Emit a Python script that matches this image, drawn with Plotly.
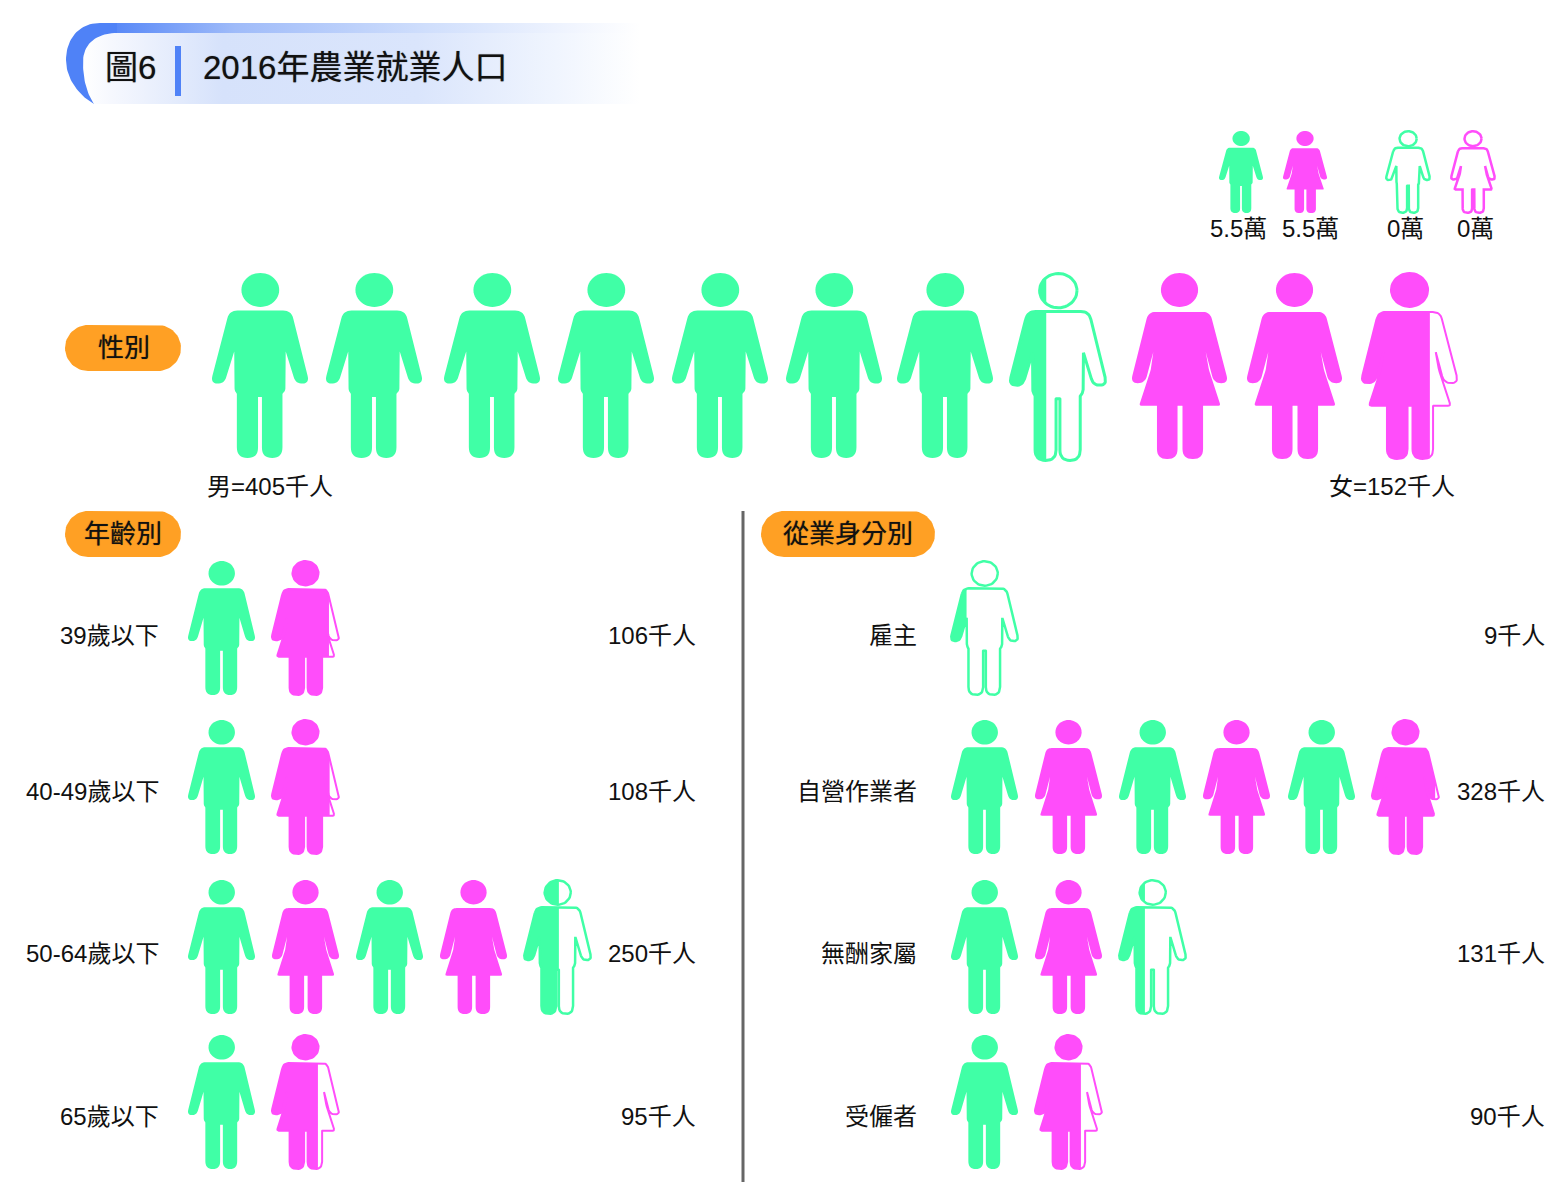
import math
import plotly.graph_objects as go

# ---------- data ----------
UNIT = 55  # thousand persons per icon (5.5萬)
title_no = "圖6"
title_text = "2016年農業就業人口"

sex_values = [405, 152]
sex_labels = ["男=405千人", "女=152千人"]
sex_last_fill = [0.38, 0.71]

age_labels = ["39歲以下", "40-49歲以下", "50-64歲以下", "65歲以下"]
age_values = [106, 108, 250, 95]
age_last_fill = [0.84, 0.85, 0.52, 0.68]

status_labels = ["雇主", "自營作業者", "無酬家屬", "受僱者"]
status_values = [9, 328, 131, 90]
status_last_fill = [0.24, 0.93, 0.39, 0.68]

legend_labels = ["5.5萬", "5.5萬", "0萬", "0萬"]
legend_kinds = ["m", "f", "m", "f"]
legend_fill = [1, 1, 0, 0]

# ---------- style / layout constants ----------
GREEN = "#40ffa6"
PINK = "#ff4dfa"
ORANGE = "#ffa024"
BLUE = "#4f82f7"
FONT = "Liberation Sans, Noto Sans CJK TC, sans-serif"

sex_male_lefts = [211, 325, 443, 557, 671, 785, 896, 1009]
sex_female_lefts = [1131, 1246, 1361]
SEX_TOP = 272
row_tops = [560, 719, 879, 1034]
row_text_y = [635, 791, 953, 1116]
age_lefts = [187, 271, 355, 439, 523]
status_lefts = [950, 1034, 1118, 1202, 1287, 1371]
legend_lefts = [1218, 1282, 1385, 1450]
legend_text_x = [1238, 1310, 1405, 1475]

# ---------- icon geometry (unit box) ----------
M_RAW = [(80,155,25),(270,155,25),(326,378,24),(284,380,22),(253,280,2),(252,400,8),(243,410,2),
         (243,607,33),(180,607,32),(180,420,1),(168,420,1),(168,607,32),(103,607,33),(103,410,2),
         (96,400,8),(95,280,2),(64,380,22),(22,378,24)]
F_RAW = [(442,155,22),(628,155,22),(684,369,24),(640,369,22),(615,275,2),(625,330,6),(660,437,8),
         (607,437,1),(607,597,30),(545,597,30),(545,437,1),(530,437,1),(530,597,30),(468,597,30),
         (468,437,1),(414,437,8),(449,330,6),(457,275,2),(432,369,22),(388,369,24)]


def rounded(raw, n=8):
    pts = []
    k = len(raw)
    for i in range(k):
        px, py, _ = raw[i - 1]
        x, y, r = raw[i]
        nx, ny, _ = raw[(i + 1) % k]
        d1 = math.hypot(px - x, py - y)
        d2 = math.hypot(nx - x, ny - y)
        r1 = min(r, d1 / 2)
        r2 = min(r, d2 / 2)
        a = (x + (px - x) * r1 / d1, y + (py - y) * r1 / d1)
        b = (x + (nx - x) * r2 / d2, y + (ny - y) * r2 / d2)
        for j in range(n + 1):
            t = j / n
            pts.append(((1-t)**2*a[0] + 2*t*(1-t)*x + t*t*b[0],
                        (1-t)**2*a[1] + 2*t*(1-t)*y + t*t*b[1]))
    pts.append(pts[0])
    return pts


def ellipse(cx, cy, rx, ry, n=48):
    return [(cx + rx*math.cos(2*math.pi*i/n), cy + ry*math.sin(2*math.pi*i/n)) for i in range(n + 1)]


def cubic(p0, p1, p2, p3, n=24):
    out = []
    for i in range(n + 1):
        t = i / n
        s = 1 - t
        out.append((s**3*p0[0] + 3*s*s*t*p1[0] + 3*s*t*t*p2[0] + t**3*p3[0],
                    s**3*p0[1] + 3*s*s*t*p1[1] + 3*s*t*t*p2[1] + t**3*p3[1]))
    return out


def build(raw, head):
    body = rounded(raw)
    hd = ellipse(*head)
    xs = [p[0] for p in body] + [p[0] for p in hd]
    ys = [p[1] for p in body] + [p[1] for p in hd]
    x0, x1, y0, y1 = min(xs), max(xs), min(ys), max(ys)
    f = lambda pts: [((x - x0) / (x1 - x0), (y - y0) / (y1 - y0)) for x, y in pts]
    return [f(body), f(hd)]


ICONS = {"m": build(M_RAW, (175, 92, 58, 52)), "f": build(F_RAW, (536, 89, 56, 51))}


def clip_right(poly, xc):
    out = []
    for i in range(len(poly) - 1):
        a, b = poly[i], poly[i + 1]
        ain, bin_ = a[0] <= xc, b[0] <= xc
        if ain:
            out.append(a)
        if ain != bin_:
            t = (xc - a[0]) / (b[0] - a[0])
            out.append((xc, a[1] + t * (b[1] - a[1])))
    if out:
        out.append(out[0])
    return out


marks = []


def icon(kind, left, top, w, h, fill, lw, trim=2):
    col = GREEN if kind == "m" else PINK
    if fill >= 1:
        l, t, ww, hh = left + 1, top + 1, w - 2, h - trim
        for sub in ICONS[kind]:
            marks.append(("fill", col, 0, [(l + u*ww, t + v*hh) for u, v in sub]))
        return
    l, t, ww, hh = left + lw/2, top + lw/2, w - lw, h - lw
    for sub in ICONS[kind]:
        pts = [(l + u*ww, t + v*hh) for u, v in sub]
        if fill > 0:
            c = clip_right(pts, left + fill * w)
            if c:
                marks.append(("fill", col, 0, c))
        marks.append(("line", col, lw, pts))


def n_icons(v):
    return math.ceil(v / UNIT)


# sex row
nm = n_icons(sex_values[0])
for i in range(nm):
    icon("m", sex_male_lefts[i], SEX_TOP, 98, 190, 1 if i < nm - 1 else sex_last_fill[0], 3, 5)
nf = n_icons(sex_values[1])
for i in range(nf):
    icon("f", sex_female_lefts[i], SEX_TOP, 97, 188, 1 if i < nf - 1 else sex_last_fill[1], 2, 2)


def row_icons(values, last, lefts):
    for r, v in enumerate(values):
        n = n_icons(v)
        for i in range(n):
            kind = "m" if i % 2 == 0 else "f"
            f = 1 if i < n - 1 else last[r]
            icon(kind, lefts[i], row_tops[r], 69, 136, f, 2.5 if kind == "m" else 2)


row_icons(age_values, age_last_fill, age_lefts)
row_icons(status_values, status_last_fill, status_lefts)

# legend icons
for k, l, f in zip(legend_kinds, legend_lefts, legend_fill):
    icon(k, l, 130, 46, 84, f, 2.5)

fig = go.Figure()


def blob(pts, **kw):
    fig.add_trace(go.Scatter(x=[p[0] for p in pts], y=[p[1] for p in pts], mode="lines", fill="toself",
                             line=dict(width=0), hoverinfo="skip", showlegend=False, **kw))


# ---------- title banner ----------
inner = cubic((94, 104), (86, 92), (83, 78), (83, 62)) + cubic((83, 62), (83, 45), (95, 33), (117, 33))
outer = cubic((100, 23), (78, 23), (66, 40), (66, 60)) + cubic((66, 60), (66, 78), (78, 95), (94, 104))
blob(inner + [(640, 33), (640, 104), (94, 104)],
     fillgradient=dict(type="horizontal", colorscale=[[0, "rgba(255,255,255,1)"], [0.05, "rgba(246,248,254,1)"],
                                                      [0.25, "rgba(214,226,251,1)"], [0.6, "rgba(218,229,252,1)"],
                                                      [0.85, "rgba(240,245,254,1)"], [1, "rgba(255,255,255,1)"]]))
blob([(100, 23), (640, 23), (640, 33), (100, 33), (100, 23)],
     fillgradient=dict(type="horizontal", colorscale=[[0, BLUE], [0.25, "#9fbbf9"], [0.6, "#cfdefc"], [0.85, "#eef3fe"],
                                                      [1, "#ffffff"]]))
blob(outer + inner + [(117, 23), (100, 23)], fillcolor=BLUE)


def pill(x0, x1, y0, y1):
    r = (y1 - y0) / 2
    e1 = ellipse(x0 + r, y0 + r, r, r, 64)
    e2 = ellipse(x1 - r, y0 + r, r, r, 64)
    pts = e1[16:49] + e2[48:65] + e2[0:17]
    pts.append(pts[0])
    blob(pts, fillcolor=ORANGE)


pill(65, 181, 325, 371)
pill(65, 181, 511, 557)
pill(761, 935, 511, 557)

# title separator and central divider
fig.add_trace(go.Scatter(x=[178, 178], y=[46, 96], mode="lines", line=dict(color=BLUE, width=6),
                         hoverinfo="skip", showlegend=False))
fig.add_trace(go.Scatter(x=[743, 743], y=[511, 1182], mode="lines", line=dict(color="#666666", width=3),
                         hoverinfo="skip", showlegend=False))

# ---------- icons ----------
for typ, col, lw, pts in marks:
    xs = [p[0] for p in pts]
    ys = [p[1] for p in pts]
    if typ == "fill":
        fig.add_trace(go.Scatter(x=xs, y=ys, mode="lines", fill="toself", fillcolor=col,
                                 line=dict(width=0, simplify=False), hoverinfo="skip", showlegend=False))
    else:
        fig.add_trace(go.Scatter(x=xs, y=ys, mode="lines", line=dict(color=col, width=lw),
                                 hoverinfo="skip", showlegend=False))


def txt(x, y, s, size=24, anchor="right", heavy=False):
    dx = {"right": 2, "left": -2, "center": 0}[anchor]
    f = dict(family=FONT, size=size, color="#111111")
    if heavy:
        f["shadow"] = "0 0 1px rgba(0,0,0,0.55)"
    fig.add_annotation(x=x + dx, y=y, text=s, showarrow=False, xanchor=anchor, yanchor="middle",
                       font=f, xref="x", yref="y")


txt(105, 67, title_no, 33, "left", True)
txt(203, 67, title_text, 33, "left", True)
txt(124, 348, "性別", 26, "center", True)
txt(123, 534, "年齡別", 26, "center", True)
txt(848, 534, "從業身分別", 26, "center", True)
txt(207, 486, sex_labels[0], 24, "left")
txt(1455, 486, sex_labels[1], 24, "right")
for x, s in zip(legend_text_x, legend_labels):
    txt(x, 228, s, 24, "center")
for r in range(4):
    txt(159, row_text_y[r], age_labels[r])
    txt(696, row_text_y[r], f"{age_values[r]}千人")
    txt(917, row_text_y[r], status_labels[r])
    txt(1545, row_text_y[r], f"{status_values[r]}千人")

fig.update_layout(width=1550, height=1200, margin=dict(l=0, r=0, t=0, b=0), autosize=False,
                  paper_bgcolor="white", plot_bgcolor="white", showlegend=False,
                  xaxis=dict(range=[0, 1550], visible=False, fixedrange=True),
                  yaxis=dict(range=[1200, 0], visible=False, fixedrange=True))

fig.write_html("out.html", post_script="document.body.style.margin='0';document.body.style.overflow='hidden';",
               config={"displayModeBar": False})
